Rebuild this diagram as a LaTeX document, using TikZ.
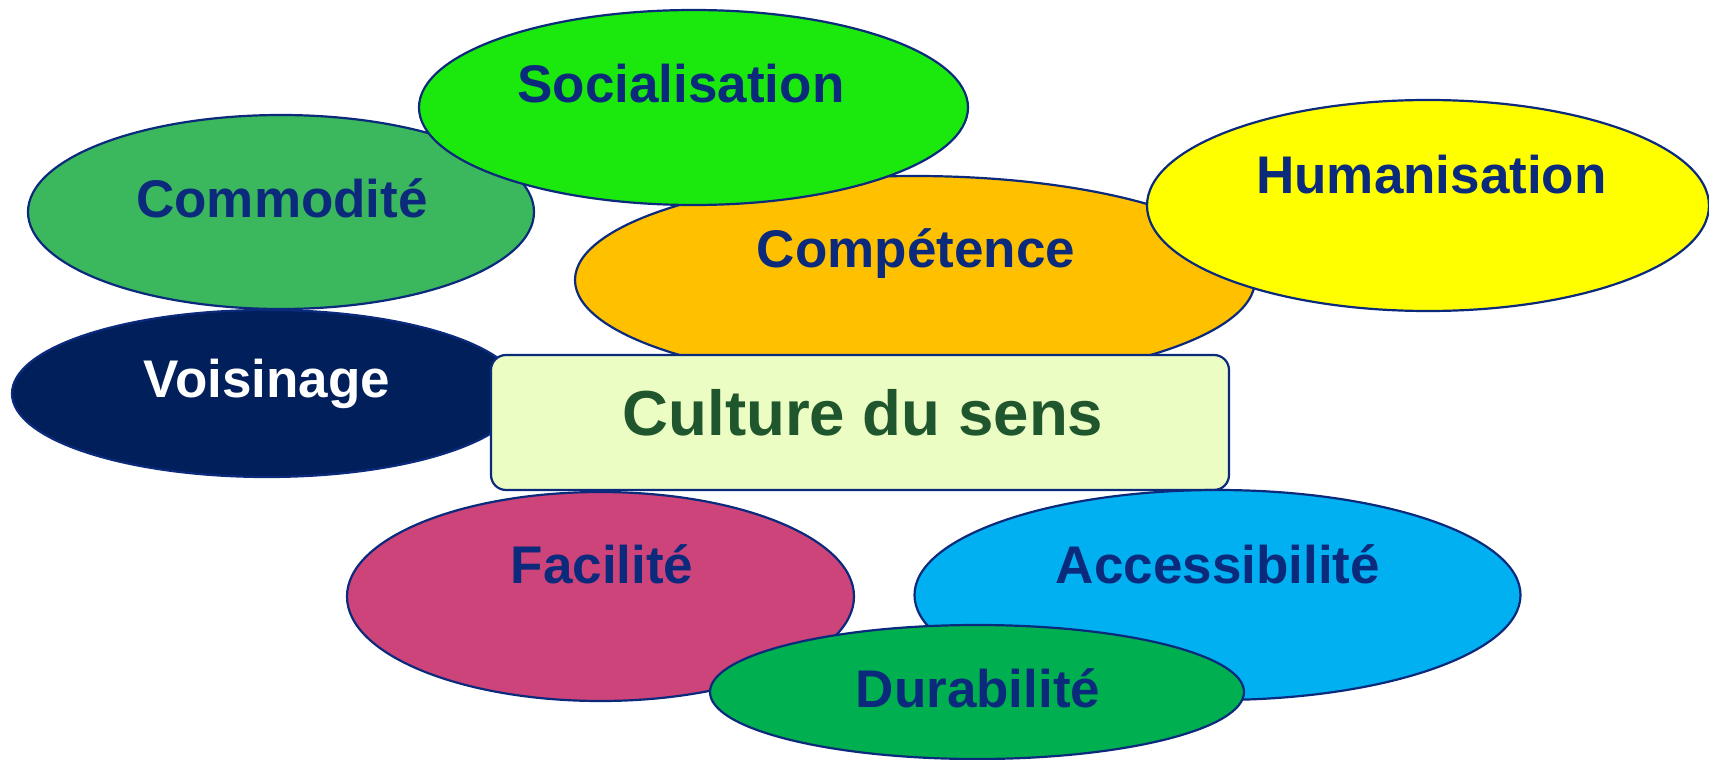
\documentclass[tikz,border=0pt]{standalone}
\usepackage{fontspec}
\setmainfont{Liberation Sans}
\usepackage{tikz}
\usetikzlibrary{shapes.geometric}
\definecolor{sensnavy}{HTML}{0B2A7C}
\definecolor{sensdark}{HTML}{001F5B}
\definecolor{sensleaf}{HTML}{3BB75E}
\definecolor{senslime}{HTML}{1BE80D}
\definecolor{sensorange}{HTML}{FFC000}
\definecolor{sensyellow}{HTML}{FFFF00}
\definecolor{senscream}{HTML}{EBFDC3}
\definecolor{sensforest}{HTML}{1F562D}
\definecolor{sensrose}{HTML}{CC447A}
\definecolor{senssky}{HTML}{00B0F0}
\definecolor{sensgreen}{HTML}{00B050}

\tikzset{
  bulle/.style={ellipse, draw=sensnavy, line width=1.1pt, inner sep=0pt},
  mot/.style={anchor=base, inner sep=0pt, text=sensnavy,
              font=\fontsize{26.5}{30}\selectfont\bfseries},
}

\begin{document}
\begin{tikzpicture}[x=0.5pt,y=-0.5pt]
\useasboundingbox (0,0) rectangle (1709,760);

% upper bubbles, back to front
\node[bulle,fill=sensorange,minimum width=340pt,minimum height=104pt] (competence) at (915,280) {};
\node[mot] (competence-t) at (916,267) {Compétence};
\node[bulle,fill=sensleaf,minimum width=253pt,minimum height=97pt] (commodite) at (281,212) {};
\node[mot] (commodite-t) at (282,217) {Commodité};
\node[bulle,fill=senslime,minimum width=274.5pt,minimum height=97.5pt] (socialisation) at (693.5,107.5) {};
\node[mot] (socialisation-t) at (681,102) {Socialisation};
\node[bulle,fill=sensyellow,minimum width=281pt,minimum height=105.5pt] (humanisation) at (1428,205.5) {};
\node[mot] (humanisation-t) at (1431.5,193) {Humanisation};
\node[bulle,fill=sensdark,minimum width=255pt,minimum height=83.5pt] (voisinage) at (267,393.5) {};
\node[mot,text=white] (voisinage-t) at (267,397) {Voisinage};

% centre box
\node[draw=sensnavy,line width=1.1pt,fill=senscream,rounded corners=7.5pt,
      minimum width=369pt,minimum height=67.5pt,inner sep=0pt] (culture) at (860,422.5) {};
\node[mot,text=sensforest,font=\fontsize{31.8}{36}\selectfont\bfseries] (culture-t) at (863,435) {Culture du sens};

% lower bubbles
\node[bulle,fill=sensrose,minimum width=253.5pt,minimum height=104.5pt] (facilite) at (600.5,596.5) {};
\node[mot] (facilite-t) at (602,583) {Facilité};
\node[bulle,fill=senssky,minimum width=303pt,minimum height=105pt] (accessibilite) at (1217.5,595) {};
\node[mot] (accessibilite-t) at (1218,583) {Accessibilité};
\node[bulle,fill=sensgreen,minimum width=267pt,minimum height=67pt] (durabilite) at (977,692) {};
\node[mot] (durabilite-t) at (978,707) {Durabilité};
\end{tikzpicture}
\end{document}
